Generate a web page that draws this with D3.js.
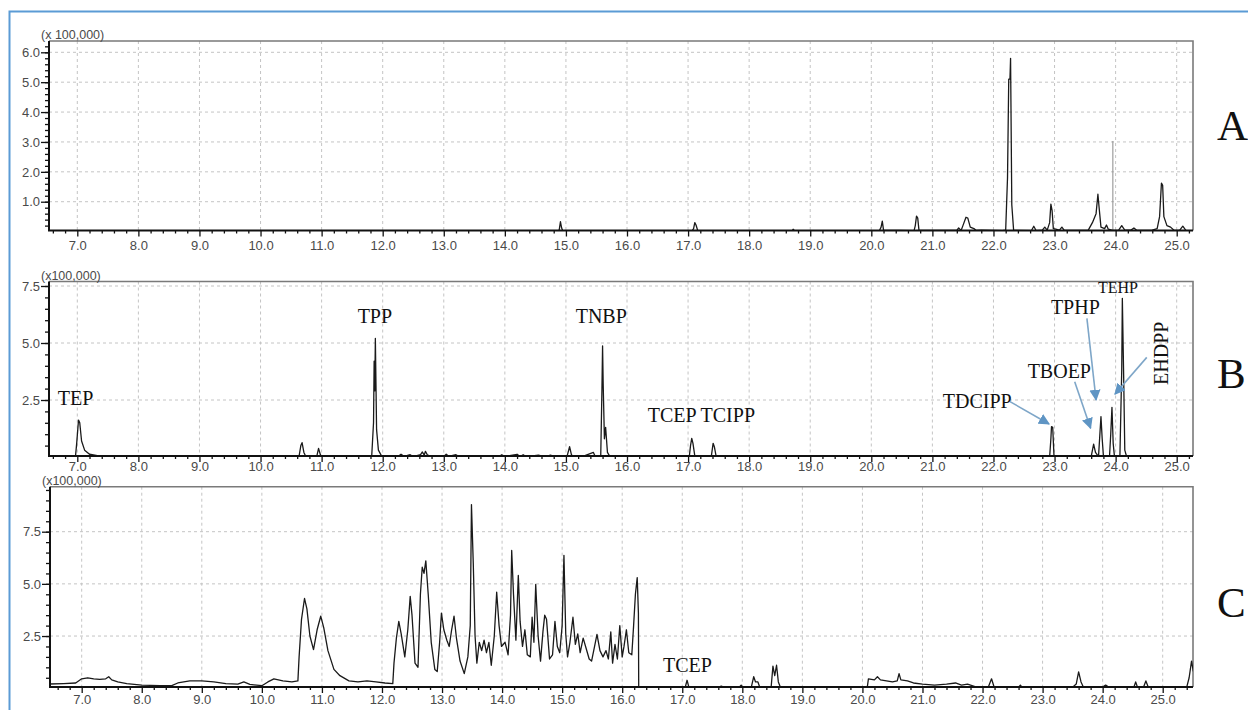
<!DOCTYPE html>
<html>
<head>
<meta charset="utf-8">
<script src="https://cdn.jsdelivr.net/npm/d3@7"></script>
<style>
  body { margin: 0; background: #fff; }
  svg { display: block; }
</style>
</head>
<body>
<svg id="chart" width="1248" height="710"></svg>
<script>
// retention time ticks (min) and intensity ticks (x100,000)
const timeTicks = [7, 8, 9, 10, 11, 12, 13, 14, 15, 16, 17, 18, 19, 20, 21, 22, 23, 24, 25];
const yTicksA = [1, 2, 3, 4, 5, 6];
const yTicksB = [2.5, 5, 7.5];
const yTicksC = [2.5, 5, 7.5];

// A: blank / procedural sample
const traceA = [
  [6.54,0.01],[14.86,0.01],[14.89,0.05],[14.91,0.33],[14.93,0.12],[14.95,0.02],
  [17.06,0.01],[17.09,0.1],[17.11,0.3],[17.13,0.22],[17.16,0.02],
  [18.7,0.01],[18.72,0.08],[18.75,0.01],
  [20.13,0.02],[20.16,0.15],[20.18,0.35],[20.2,0.05],
  [20.7,0.03],[20.72,0.2],[20.74,0.52],[20.76,0.45],[20.78,0.05],
  [21.4,0.04],[21.43,0.12],[21.47,0.04],[21.5,0.2],[21.55,0.48],[21.58,0.45],[21.62,0.15],[21.68,0.1],[21.72,0.04],[21.8,0.05],[22.15,0.03],
  [22.2,0.05],[22.23,1.8],[22.25,5.1],[22.27,5.1],[22.28,5.8],[22.3,0.9],[22.33,0.04],
  [22.62,0.03],[22.66,0.18],[22.7,0.03],[22.8,0.05],[22.84,0.15],[22.88,0.05],[22.92,0.3],[22.94,0.92],[22.96,0.7],[22.98,0.1],
  [23.02,0.08],[23.08,0.05],[23.12,0.15],[23.16,0.04],
  [23.55,0.04],[23.62,0.3],[23.68,0.6],[23.71,1.25],[23.73,0.8],[23.76,0.15],[23.82,0.1],[23.85,0.22],[23.88,0.08],[23.95,0.04],
  [24.05,0.05],[24.1,0.2],[24.15,0.05],[24.25,0.05],[24.3,0.12],[24.35,0.04],
  [24.6,0.05],[24.68,0.1],[24.72,0.5],[24.75,1.62],[24.77,1.55],[24.79,0.5],[24.84,0.2],[24.9,0.15],[24.96,0.04],
  [25.05,0.05],[25.1,0.18],[25.15,0.04],[25.26,0.03]
];
const spikeA = [[23.955,0.04],[23.955,3.03]];

// B: standard mixture
const traceB = [
  [6.54,0.02],[6.97,0.02],[6.99,0.6],[7.02,1.62],[7.04,1.5],[7.07,0.7],[7.12,0.3],[7.2,0.12],[7.35,0.05],[7.5,0.01],
  [8.6,0.01],[8.63,0.06],[8.66,0.01],
  [10.63,0.02],[10.66,0.5],[10.68,0.63],[10.71,0.2],[10.74,0.03],[10.92,0.02],[10.95,0.38],[10.98,0.1],[11.0,0.02],
  [11.82,0.02],[11.85,1.5],[11.86,4.2],[11.87,2.9],[11.88,5.2],[11.9,1.2],[11.93,0.3],[11.98,0.05],
  [12.25,0.02],[12.3,0.12],[12.35,0.03],[12.45,0.1],[12.5,0.02],[12.62,0.1],[12.65,0.22],[12.68,0.08],[12.7,0.25],[12.73,0.1],[12.78,0.03],
  [13.0,0.02],[13.04,0.12],[13.08,0.03],[13.2,0.1],[13.25,0.02],[13.5,0.06],[13.9,0.02],[13.95,0.1],[14.0,0.02],
  [14.2,0.12],[14.25,0.02],[14.3,0.1],[14.35,0.02],[14.55,0.08],[14.65,0.02],[14.75,0.08],[14.8,0.02],
  [15.02,0.05],[15.06,0.45],[15.09,0.1],[15.12,0.02],[15.3,0.05],[15.45,0.2],[15.48,0.02],
  [15.57,0.05],[15.59,3.0],[15.6,4.87],[15.61,3.2],[15.63,0.8],[15.65,1.3],[15.68,0.2],[15.72,0.02],
  [16.0,0.01],[17.02,0.02],[17.04,0.5],[17.06,0.82],[17.08,0.6],[17.11,0.05],
  [17.38,0.02],[17.41,0.6],[17.43,0.45],[17.46,0.02],[18.6,0.02],[18.63,0.06],[18.66,0.01],
  [20.1,0.01],[20.6,0.03],[20.62,0.01],
  [22.92,0.02],[22.94,0.8],[22.95,1.33],[22.97,1.3],[22.99,0.1],[23.0,0.02],
  [23.6,0.02],[23.64,0.56],[23.67,0.2],[23.72,0.02],[23.74,0.9],[23.76,1.77],[23.78,0.8],[23.8,0.05],
  [23.9,0.02],[23.92,1.0],[23.94,2.18],[23.96,0.6],[23.98,0.05],
  [24.07,0.02],[24.1,3.8],[24.11,6.96],[24.13,3.8],[24.15,0.3],[24.18,0.02],[25.26,0.01]
];

// C: real sample extract
const traceC = [
  [6.47,0.2],[6.7,0.22],[6.9,0.25],[7.0,0.45],[7.1,0.5],[7.2,0.45],[7.3,0.42],[7.4,0.45],[7.45,0.55],[7.5,0.4],[7.6,0.3],[7.75,0.22],
  [8.0,0.15],[8.3,0.12],[8.5,0.12],[8.6,0.25],[8.8,0.35],[9.0,0.35],[9.2,0.3],[9.4,0.22],[9.6,0.2],[9.7,0.3],[9.8,0.18],
  [10.0,0.12],[10.1,0.3],[10.2,0.45],[10.35,0.35],[10.5,0.3],[10.6,0.35],
  [10.62,1.5],[10.66,3.3],[10.71,4.3],[10.75,3.8],[10.8,2.5],[10.86,1.85],[10.92,2.8],[10.98,3.45],[11.03,2.9],[11.1,1.8],[11.2,0.9],
  [11.3,0.6],[11.45,0.35],[11.6,0.3],[11.75,0.35],[11.9,0.3],[12.05,0.25],[12.18,0.22],
  [12.2,1.2],[12.24,2.4],[12.28,3.2],[12.32,2.6],[12.38,1.5],[12.43,2.8],[12.47,4.4],[12.5,3.5],[12.55,1.2],[12.6,1.0],
  [12.64,4.5],[12.67,5.8],[12.7,5.5],[12.73,6.1],[12.77,4.5],[12.82,2.2],[12.88,0.9],[12.92,0.8],[12.96,2.2],[12.99,3.6],
  [13.03,2.8],[13.08,2.3],[13.12,2.0],[13.16,2.8],[13.2,3.45],[13.24,2.4],[13.3,1.3],[13.37,0.7],[13.43,1.5],[13.47,3.0],
  [13.49,8.8],[13.52,6.0],[13.55,2.5],[13.58,1.2],[13.62,2.2],[13.66,1.8],[13.7,2.3],[13.74,1.7],[13.78,2.2],[13.82,1.1],
  [13.87,2.5],[13.91,4.6],[13.95,3.0],[13.99,2.0],[14.05,2.2],[14.1,1.6],[14.14,3.5],[14.16,6.6],[14.19,4.5],[14.23,2.3],
  [14.27,5.4],[14.3,3.2],[14.34,2.0],[14.38,2.8],[14.42,1.6],[14.47,1.5],[14.5,3.4],[14.53,2.2],[14.56,4.97],[14.6,2.5],
  [14.64,1.3],[14.68,2.7],[14.71,3.5],[14.74,3.3],[14.79,1.4],[14.84,1.6],[14.88,3.2],[14.92,2.0],[14.96,1.7],[15.0,3.0],
  [15.03,6.37],[15.06,2.6],[15.09,1.5],[15.13,2.2],[15.18,3.4],[15.22,2.1],[15.26,2.6],[15.3,1.7],[15.35,2.4],[15.4,1.9],
  [15.45,1.4],[15.49,1.3],[15.54,2.0],[15.58,2.58],[15.63,1.8],[15.68,1.5],[15.73,1.8],[15.77,1.4],[15.81,2.7],[15.84,1.2],
  [15.88,2.1],[15.92,1.4],[15.96,3.0],[16.0,1.5],[16.03,2.0],[16.07,2.8],[16.11,1.7],[16.16,1.6],[16.19,3.0],[16.22,4.5],
  [16.25,5.3],[16.27,3.6],[16.275,0.05],[16.6,0.03],[17.0,0.05],[17.05,0.05],[17.08,0.38],[17.11,0.05],
  [17.6,0.05],[17.65,0.1],[17.7,0.04],[17.95,0.05],[17.98,0.15],[18.01,0.04],
  [18.15,0.05],[18.19,0.55],[18.22,0.3],[18.26,0.3],[18.29,0.05],[18.48,0.05],[18.51,1.06],[18.54,0.6],[18.57,1.1],[18.6,0.3],[18.63,0.08],
  [18.7,0.03],[19.5,0.05],[19.8,0.03],[20.08,0.03],[20.1,0.45],[20.2,0.4],[20.25,0.55],[20.3,0.4],[20.4,0.35],[20.5,0.3],
  [20.58,0.35],[20.61,0.7],[20.64,0.4],[20.75,0.35],[20.85,0.25],[21.0,0.2],[21.2,0.15],[21.4,0.2],[21.55,0.25],[21.65,0.15],
  [21.75,0.2],[21.9,0.05],[22.1,0.08],[22.15,0.45],[22.19,0.08],[22.6,0.05],[22.63,0.15],[22.66,0.04],
  [23.5,0.05],[23.56,0.2],[23.6,0.78],[23.64,0.3],[23.68,0.05],[24.0,0.05],[24.05,0.15],[24.1,0.05],
  [24.52,0.05],[24.55,0.3],[24.58,0.05],[24.68,0.05],[24.72,0.35],[24.76,0.05],[25.4,0.05],[25.44,0.5],[25.48,1.3],[25.51,0.8]
];

// compound labels (anchor in data units: t, v)
const labelsB = [
  {text: "TEP", t: 6.68, v: 2.28},
  {text: "TPP", t: 11.59, v: 5.88},
  {text: "TNBP", t: 15.16, v: 5.88},
  {text: "TCEP TCIPP", t: 16.34, v: 1.55},
  {text: "TDCIPP", t: 21.17, v: 2.16},
  {text: "TBOEP", t: 22.56, v: 3.46},
  {text: "TPHP", t: 22.94, v: 6.27},
  {text: "TEHP", t: 23.71, v: 7.2, small: true},
  {text: "EHDPP", t: 24.86, v: 3.16, vertical: true}
];
const arrowsB = [
  {t1: 22.27, v1: 2.43, t2: 22.91, v2: 1.45},
  {t1: 23.33, v1: 3.30, t2: 23.59, v2: 1.26},
  {t1: 23.53, v1: 6.08, t2: 23.68, v2: 2.5},
  {t1: 24.51, v1: 4.37, t2: 23.99, v2: 2.76}
];
const labelsC = [{text: "TCEP", t: 16.68, v: 0.77}];
const panelLetters = ["A", "B", "C"];
const scaleNotes = ["(x 100,000)", "(x100,000)", "(x100,000)"];

const svg = d3.select("#chart");

// outer blue frame
svg.append("rect")
  .attr("x", 9.5).attr("y", 11.5)
  .attr("width", 1260).attr("height", 720)
  .attr("fill", "none")
  .attr("stroke", "#5b9bd5")
  .attr("stroke-width", 2);

const defs = svg.append("defs");
defs.append("marker")
  .attr("id", "arrow")
  .attr("viewBox", "0 0 10 10")
  .attr("refX", 9).attr("refY", 5)
  .attr("markerWidth", 7).attr("markerHeight", 7)
  .attr("orient", "auto-start-reverse")
  .append("path")
  .attr("d", "M0,0 L10,5 L0,10 z")
  .attr("fill", "#5f95c4");

const sans = "Liberation Sans, Arial, sans-serif";
const serif = "Liberation Serif, Times New Roman, serif";

function drawPanel(p) {
  const g = svg.append("g");
  const x = d3.scaleLinear().domain([7, 25]).range(p.xr);
  const y = d3.scaleLinear().domain([0, p.yRef]).range(p.yr);

  // grid
  g.append("g").selectAll("line").data(timeTicks).join("line")
    .attr("x1", d => x(d)).attr("x2", d => x(d))
    .attr("y1", p.top).attr("y2", p.bottom)
    .attr("stroke", "#c4c4c4").attr("stroke-dasharray", "3,3");
  g.append("g").selectAll("line").data(p.yTicks).join("line")
    .attr("x1", p.left).attr("x2", p.right)
    .attr("y1", d => y(d)).attr("y2", d => y(d))
    .attr("stroke", "#c4c4c4").attr("stroke-dasharray", "3,3");

  // frame (top and right)
  g.append("path")
    .attr("d", `M${p.left},${p.top}H${p.right}V${p.bottom}`)
    .attr("fill", "none").attr("stroke", "#7a7a7a").attr("stroke-width", 1.6);

  // traces
  const clipId = "clip" + p.name;
  defs.append("clipPath").attr("id", clipId)
    .append("rect").attr("x", p.left).attr("y", p.top)
    .attr("width", p.right - p.left).attr("height", p.bottom - p.top);
  const line = d3.line().x(d => x(d[0])).y(d => y(d[1]));
  const tg = g.append("g").attr("clip-path", `url(#${clipId})`);
  (p.extra || []).forEach(tr => {
    tg.append("path").datum(tr).attr("d", line)
      .attr("fill", "none").attr("stroke", "#8a8a8a").attr("stroke-width", 1);
  });
  tg.append("path").datum(p.trace).attr("d", line)
    .attr("fill", "none").attr("stroke", "#1a1a1a").attr("stroke-width", 1.3)
    .attr("stroke-linejoin", "round");

  // x axis
  const t0 = x.invert(p.left), t1 = x.invert(p.right);
  const minorX = d3.range(Math.ceil(t0 * 5) / 5, t1, 0.2).filter(v => Math.abs(v - Math.round(v)) > 0.01);
  g.append("g").attr("transform", `translate(0,${p.bottom})`)
    .call(d3.axisBottom(x).tickValues(minorX).tickSize(3).tickFormat(""))
    .call(a => a.select(".domain").remove())
    .selectAll("line").attr("stroke", "#111").attr("stroke-width", 1.3);
  const xa = g.append("g").attr("transform", `translate(0,${p.bottom})`)
    .call(d3.axisBottom(x).tickValues(timeTicks).tickSize(6).tickPadding(p.xPad).tickFormat(d3.format(".1f")));
  xa.select(".domain").remove();
  xa.selectAll("line").attr("stroke", "#111").attr("stroke-width", 1.3);
  xa.selectAll("text").attr("font-size", 13).attr("fill", "#4a4a4a")
    .attr("font-family", sans);

  // y axis
  const minorY = d3.range(p.yMinor, y.invert(p.top), p.yMinor);
  g.append("g").attr("transform", `translate(${p.left},0)`)
    .call(d3.axisLeft(y).tickValues(minorY).tickSize(4).tickFormat(""))
    .call(a => a.select(".domain").remove())
    .selectAll("line").attr("stroke", "#111").attr("stroke-width", 1.3);
  const ya = g.append("g").attr("transform", `translate(${p.left},0)`)
    .call(d3.axisLeft(y).tickValues(p.yTicks).tickSize(8).tickPadding(1).tickFormat(d3.format(".1f")));
  ya.select(".domain").remove();
  ya.selectAll("line").attr("stroke", "#111").attr("stroke-width", 1.3);
  ya.selectAll("text").attr("font-size", 13).attr("fill", "#4a4a4a")
    .attr("font-family", sans);

  // axis lines
  g.append("path")
    .attr("d", `M${p.left},${p.top}V${p.bottom}H${p.right}`)
    .attr("fill", "none").attr("stroke", "#111").attr("stroke-width", 2);

  // multiplier label
  g.append("text")
    .attr("x", p.left - 8).attr("y", p.top - 2)
    .attr("font-size", 12.5).attr("fill", "#4a4a4a")
    .attr("font-family", sans)
    .text(p.note);

  // panel letter
  g.append("text")
    .attr("x", 1217).attr("y", p.letterY)
    .attr("font-size", 43)
    .attr("font-family", serif)
    .attr("fill", "#111")
    .text(p.letter);

  // arrows
  (p.arrows || []).forEach(a => {
    g.append("line")
      .attr("x1", x(a.t1)).attr("y1", y(a.v1))
      .attr("x2", x(a.t2)).attr("y2", y(a.v2))
      .attr("stroke", "#7ea6c8").attr("stroke-width", 1.6)
      .attr("marker-end", "url(#arrow)");
  });

  // compound labels
  (p.labels || []).forEach(l => {
    const tx = g.append("text")
      .attr("font-family", serif)
      .attr("font-size", l.small ? 16 : 20)
      .attr("fill", "#111")
      .text(l.text);
    if (l.vertical) {
      tx.attr("transform", `translate(${x(l.t)},${y(l.v)}) rotate(-90)`);
    } else {
      tx.attr("x", x(l.t)).attr("y", y(l.v));
    }
  });
}

drawPanel({
  name: "A", letter: panelLetters[0], note: scaleNotes[0], letterY: 140,
  left: 49, right: 1193, top: 41, bottom: 230.5, xPad: 4,
  xr: [77.3, 1176.7], yRef: 6, yr: [231.6, 52.3],
  yTicks: yTicksA, yMinor: 0.2,
  trace: traceA, extra: [spikeA]
});
drawPanel({
  name: "B", letter: panelLetters[1], note: scaleNotes[1], letterY: 388,
  left: 49, right: 1193, top: 281.5, bottom: 456, xPad: 0,
  xr: [77.3, 1176.7], yRef: 7.5, yr: [457, 286],
  yTicks: yTicksB, yMinor: 0.5,
  trace: traceB, labels: labelsB, arrows: arrowsB
});
drawPanel({
  name: "C", letter: panelLetters[2], note: scaleNotes[2], letterY: 617,
  left: 50, right: 1193, top: 486.7, bottom: 687, xPad: 2,
  xr: [81.7, 1162.7], yRef: 7.5, yr: [688.2, 531.7],
  yTicks: yTicksC, yMinor: 0.5,
  trace: traceC, labels: labelsC
});
</script>
</body>
</html>
